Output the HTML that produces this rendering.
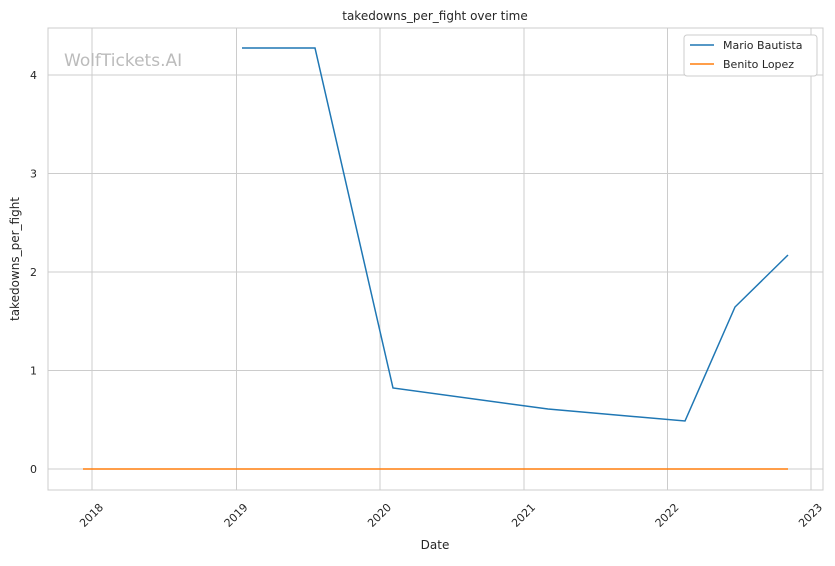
<!DOCTYPE html>
<html><head><meta charset="utf-8"><style>
html,body{margin:0;padding:0;background:#fff;}
text{font-family:"DejaVu Sans","Liberation Sans",sans-serif;fill:#262626;}
</style></head><body>
<svg width="835" height="561" xmlns="http://www.w3.org/2000/svg">
<rect width="835" height="561" fill="#fff"/>
<g stroke="#cccccc" stroke-width="1">
<line x1="92" y1="28" x2="92" y2="490"/>
<line x1="236.5" y1="28" x2="236.5" y2="490"/>
<line x1="380" y1="28" x2="380" y2="490"/>
<line x1="524" y1="28" x2="524" y2="490"/>
<line x1="667.5" y1="28" x2="667.5" y2="490"/>
<line x1="811" y1="28" x2="811" y2="490"/>
<line x1="48" y1="469" x2="823" y2="469"/>
<line x1="48" y1="370.5" x2="823" y2="370.5"/>
<line x1="48" y1="272" x2="823" y2="272"/>
<line x1="48" y1="173.5" x2="823" y2="173.5"/>
<line x1="48" y1="75" x2="823" y2="75"/>
</g>
<rect x="48" y="28" width="775" height="462" fill="none" stroke="#cccccc" stroke-width="1"/>
<text x="64" y="66" font-size="17" style="fill:#bbbbbb">WolfTickets.AI</text>
<polyline points="83,469 788,469" fill="none" stroke="#ff7f0e" stroke-width="1.5"/>
<polyline points="242,48 315,48 393,388 548,409 685,421 735,307 788,255" fill="none" stroke="#1f77b4" stroke-width="1.5"/>
<g font-size="11" text-anchor="end">
<text x="37" y="473">0</text><text x="37" y="374.5">1</text><text x="37" y="276">2</text><text x="37" y="177.5">3</text><text x="37" y="79">4</text>
</g>
<g font-size="11" text-anchor="end">
<text transform="translate(104,508) rotate(-45)">2018</text>
<text transform="translate(248.5,508) rotate(-45)">2019</text>
<text transform="translate(392,508) rotate(-45)">2020</text>
<text transform="translate(536,508) rotate(-45)">2021</text>
<text transform="translate(679.5,508) rotate(-45)">2022</text>
<text transform="translate(823,508) rotate(-45)">2023</text>
</g>
<text x="435" y="549" font-size="12" text-anchor="middle">Date</text>
<text transform="translate(19,259) rotate(-90)" font-size="12" text-anchor="middle">takedowns_per_fight</text>
<text x="435" y="20" font-size="12" text-anchor="middle">takedowns_per_fight over time</text>
<rect x="684" y="35" width="133" height="41" fill="#fff" stroke="#cccccc" rx="3"/>
<line x1="690" y1="45" x2="714" y2="45" stroke="#1f77b4" stroke-width="1.5"/>
<text x="723" y="49" font-size="11">Mario Bautista</text>
<line x1="690" y1="64" x2="714" y2="64" stroke="#ff7f0e" stroke-width="1.5"/>
<text x="723" y="68" font-size="11">Benito Lopez</text>
</svg>
</body></html>
